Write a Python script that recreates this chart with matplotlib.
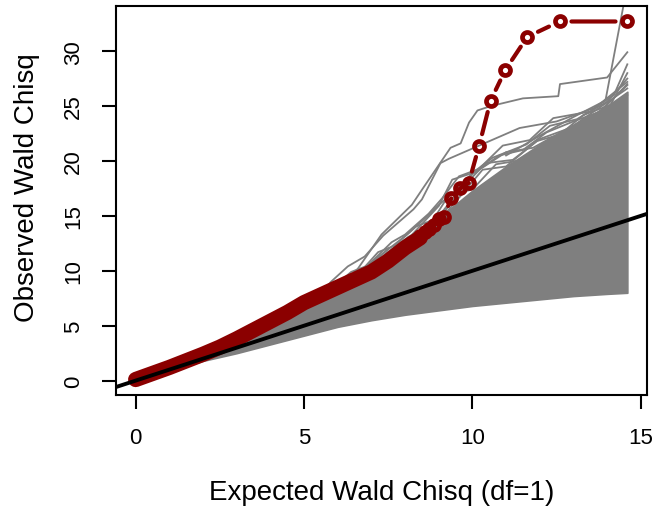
import matplotlib
matplotlib.use("Agg")
import matplotlib.pyplot as plt

# observed statistics: dense lower part (overlapping circles) and the sparse tail
obs_dense_x = [0.0, 0.5, 1.0, 1.5, 2.0, 2.5, 3.0, 3.5, 4.0, 4.5, 5.0, 5.5, 6.0, 6.5, 7.0, 7.5, 8.0, 8.45]
obs_dense_y = [0.1, 0.65, 1.2, 1.8, 2.4, 3.05, 3.8, 4.6, 5.4, 6.2, 7.1, 7.8, 8.5, 9.2, 9.9, 10.9, 12.1, 13.0]
obs_tail_x = [8.45, 8.6, 8.72, 8.85, 9.0, 9.15, 9.37, 9.64, 9.89, 10.2, 10.54, 10.98, 11.63, 12.59, 14.6]
obs_tail_y = [13.2, 13.5, 13.8, 14.2, 14.7, 14.9, 16.6, 17.5, 18.0, 21.4, 25.5, 28.3, 31.3, 32.7, 32.7]

# simulated null statistics: envelope of the dense bundle of grey lines
sim_x = [0, 1, 2, 3, 4, 5, 6, 7, 8, 9, 10, 11, 12, 13, 14, 14.6]
sim_upper = [0, 1.25, 2.5, 3.8, 5.2, 6.8, 8.3, 9.8, 11.9, 14.8, 17.3, 19.5, 21.5, 23.3, 25.0, 26.3]
sim_lower = [0, 0.9, 1.8, 2.5, 3.3, 4.1, 4.9, 5.5, 6.0, 6.4, 6.8, 7.1, 7.4, 7.7, 7.9, 8.0]

# individual simulated lines that stick out above the bundle
sim_traces = [
    ([6.0, 6.6, 7.3, 8.2, 8.55, 9.35, 9.65, 9.9, 10.15, 10.55, 11.5, 12.55, 12.6, 14.0, 14.6],
     [8.3, 10.2, 13.3, 16.0, 17.6, 21.2, 21.6, 23.5, 24.6, 25.0, 25.7, 25.9, 27.0, 27.6, 29.9]),
    ([11.0, 12.0, 13.0, 13.95, 14.6],
     [20.5, 22.3, 24.0, 25.5, 36.0]),
    ([5.4, 5.8, 6.3, 6.8, 7.35, 7.8, 8.25, 8.5, 9.05, 9.3, 9.9, 10.5, 11.4, 12.5, 13.6, 14.2, 14.6],
     [7.6, 9.0, 10.4, 11.3, 13.2, 14.4, 15.6, 16.5, 19.8, 20.2, 21.0, 21.8, 23.0, 23.6, 24.8, 26.0, 28.8]),
    ([6.0, 6.6, 7.1, 7.6, 8.1, 8.6, 9.0, 9.5, 10.0, 10.6, 11.6, 12.3, 13.1, 14.0, 14.6],
     [8.6, 9.8, 11.0, 12.2, 13.4, 14.8, 16.0, 17.3, 18.9, 20.3, 21.5, 23.2, 23.8, 25.4, 27.5]),
    ([6.5, 7.0, 7.6, 8.0, 8.7, 9.1, 9.6, 10.3, 11.0, 11.8, 12.8, 13.6, 14.6],
     [9.4, 10.8, 12.6, 13.3, 15.2, 16.6, 18.6, 19.4, 20.8, 21.2, 22.9, 24.0, 26.9]),
    ([8.0, 8.8, 9.4, 10.0, 10.8, 11.5, 12.2, 13.0, 13.8, 14.6],
     [11.5, 14.2, 16.5, 18.8, 20.5, 21.0, 22.6, 23.6, 24.5, 27.0]),
    ([8.5, 9.2, 9.8, 10.4, 11.2, 12.0, 12.9, 13.7, 14.6],
     [13.0, 15.5, 17.9, 19.8, 20.1, 22.0, 23.0, 24.7, 26.6]),
    ([9.0, 9.7, 10.3, 11.0, 11.9, 12.6, 13.3, 14.1, 14.6],
     [14.5, 17.0, 19.2, 19.5, 21.8, 22.4, 24.2, 25.1, 28.0]),
    ([7.5, 8.3, 9.0, 9.4, 10.1, 10.9, 11.7, 12.4, 13.5, 14.6],
     [11.0, 13.6, 15.9, 18.3, 19.0, 21.4, 21.9, 23.9, 24.5, 27.2]),
    ([6.8, 7.4, 8.1, 8.7, 9.3, 10.0, 10.7, 11.3, 12.0, 13.0, 14.0, 14.6],
     [9.7, 11.5, 13.1, 14.0, 16.9, 17.4, 19.7, 20.0, 21.0, 22.8, 23.9, 26.0]),
    ([5.8, 6.2, 6.7, 7.2, 7.7, 8.3, 8.8],
     [8.0, 9.3, 10.0, 11.7, 12.3, 14.0, 14.6]),
    ([4.8, 5.3, 5.9, 6.4, 7.0, 7.5],
     [6.6, 7.8, 8.6, 9.9, 10.6, 12.0]),
]

x_ticks = [0, 5, 10, 15]
y_ticks = [0, 5, 10, 15, 20, 25, 30]

GREY = "#7f7f7f"
DARKRED = "#8b0000"

plt.rcParams["font.family"] = ["Liberation Sans", "DejaVu Sans"]

fig = plt.figure(figsize=(6.53, 5.10), dpi=100)
ax = fig.add_axes([116 / 653, 1 - 396 / 510, (647 - 116) / 653, (396 - 7) / 510])

ax.fill_between(sim_x, sim_lower, sim_upper, color=GREY, lw=1.2, zorder=1)
for tx, ty in sim_traces:
    ax.plot(tx, ty, color=GREY, lw=1.3, zorder=1)

# dense part: circles overlap into a solid band
ax.plot(obs_dense_x, obs_dense_y, color=DARKRED, lw=11, solid_capstyle="round", zorder=2)
# tail: separate segments with gaps around the open circles
for i in range(len(obs_tail_x) - 1):
    ax.annotate(
        "",
        xy=(obs_tail_x[i + 1], obs_tail_y[i + 1]),
        xytext=(obs_tail_x[i], obs_tail_y[i]),
        arrowprops=dict(arrowstyle="-", color=DARKRED, lw=3, shrinkA=8.5, shrinkB=8.5),
        zorder=2,
    )
ax.plot(obs_tail_x, obs_tail_y, ls="none", marker="o", ms=7.2, mew=3.4,
        mec=DARKRED, mfc="none", zorder=3)

ax.axline((0, 0), slope=1, color="black", lw=2.8, zorder=4)

ax.set_xlim(-0.584, 15.184)
ax.set_ylim(-1.31, 34.11)
ax.set_xticks(x_ticks)
ax.set_yticks(y_ticks)
ax.tick_params(axis="both", length=10, width=1.5, labelsize=16, pad=13)
for lab in ax.get_yticklabels():
    lab.set_rotation(90)
    lab.set_va("center")
for spine in ax.spines.values():
    spine.set_linewidth(1.5)

fig.text(382 / 653, 1 - 500 / 510, "Expected Wald Chisq (df=1)", ha="center",
         va="baseline", fontsize=20)
fig.text(27 / 653, 1 - 188 / 510, "Observed Wald Chisq", ha="center",
         va="center", rotation=90, fontsize=20)

fig.savefig("out.png", dpi=100)
